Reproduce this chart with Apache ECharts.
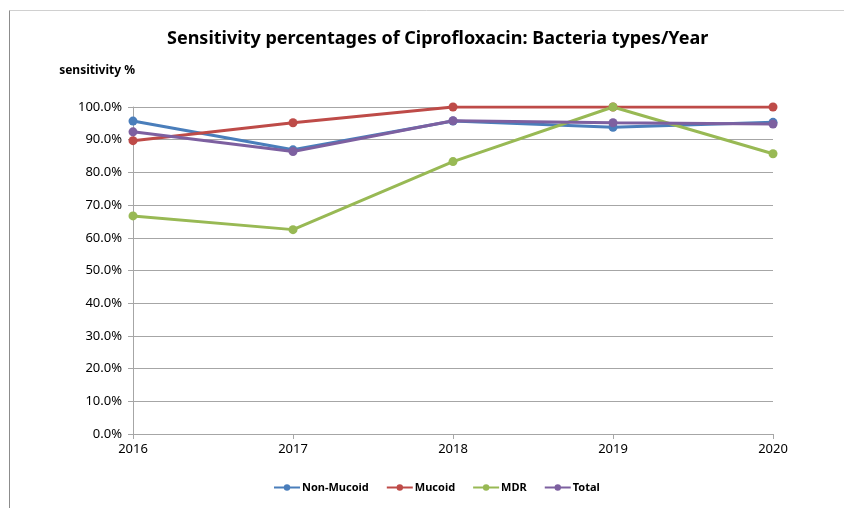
<!DOCTYPE html>
<html>
<head>
<meta charset="utf-8">
<script src="https://cdn.jsdelivr.net/npm/echarts@6/dist/echarts.min.js"></script>
<style>
  html, body { margin: 0; padding: 0; background: #fff; }
  #chart { width: 844px; height: 508px; }
</style>
</head>
<body>
<div id="chart"></div>
<script>
// Years on the x axis
const years = ['2016', '2017', '2018', '2019', '2020'];

// Ciprofloxacin sensitivity (%) per bacteria type
const nonMucoid = [95.7, 86.9, 95.7, 93.8, 95.3];
const mucoid    = [89.7, 95.2, 100, 100, 100];
const mdr       = [66.7, 62.5, 83.3, 100, 85.7];
const total     = [92.4, 86.4, 95.8, 95.2, 94.8];

const seriesNames  = ['Non-Mucoid', 'Mucoid', 'MDR', 'Total'];
const seriesValues = [nonMucoid, mucoid, mdr, total];
const seriesColors = ['#4a7ebb', '#be4b48', '#98b954', '#7d60a0'];

const textFont = "'Noto Sans', sans-serif";

const chart = echarts.init(document.getElementById('chart'), null, { renderer: 'canvas' });

chart.setOption({
  animation: false,
  backgroundColor: '#fff',
  title: {
    text: 'Sensitivity percentages of Ciprofloxacin: Bacteria types/Year',
    left: 162,
    top: 25,
    textStyle: { fontFamily: textFont, fontSize: 18, fontWeight: 'bold', color: '#000' }
  },
  graphic: [
    { type: 'line', shape: { x1: 9.5, y1: 10.5, x2: 844, y2: 10.5 }, style: { stroke: '#d0d0d0', lineWidth: 1 } },
    { type: 'line', shape: { x1: 9.5, y1: 10.5, x2: 9.5, y2: 508 }, style: { stroke: '#8c8c8c', lineWidth: 1 } }
  ],
  legend: {
    bottom: 10,
    left: 268,
    itemWidth: 26,
    itemHeight: 8,
    itemGap: 17,
    data: seriesNames,
    textStyle: { fontFamily: textFont, fontSize: 11, fontWeight: 'bold', color: '#000', padding: [0, 0, 0, -3] }
  },
  grid: { left: 133, right: 71, top: 107, bottom: 74 },
  xAxis: {
    type: 'category',
    data: years,
    boundaryGap: false,
    axisLine: { lineStyle: { color: '#a6a6a6' } },
    axisTick: { show: true, alignWithLabel: true, length: 5, lineStyle: { color: '#a6a6a6' } },
    axisLabel: { fontFamily: textFont, fontSize: 13, color: '#000', margin: 9 }
  },
  yAxis: {
    type: 'value',
    min: 0,
    max: 100,
    interval: 10,
    name: 'sensitivity %',
    nameLocation: 'end',
    nameGap: 30,
    nameTextStyle: { fontFamily: textFont, fontSize: 12, fontWeight: 'bold', color: '#000', align: 'right', padding: [0, -2, 0, 0] },
    axisLine: { show: true, lineStyle: { color: '#a6a6a6' } },
    axisTick: { show: true, length: 5, lineStyle: { color: '#a6a6a6' } },
    splitLine: { lineStyle: { color: '#a6a6a6' } },
    axisLabel: {
      fontFamily: textFont, fontSize: 13, color: '#000', margin: 11,
      formatter: v => v.toFixed(1) + '%'
    }
  },
  series: seriesNames.map((name, i) => ({
    name,
    type: 'line',
    data: seriesValues[i],
    symbol: 'circle',
    symbolSize: 9,
    lineStyle: { width: 3, color: seriesColors[i] },
    itemStyle: { color: seriesColors[i] },
    z: i === 3 ? 4 : 2
  }))
});
</script>
</body>
</html>
